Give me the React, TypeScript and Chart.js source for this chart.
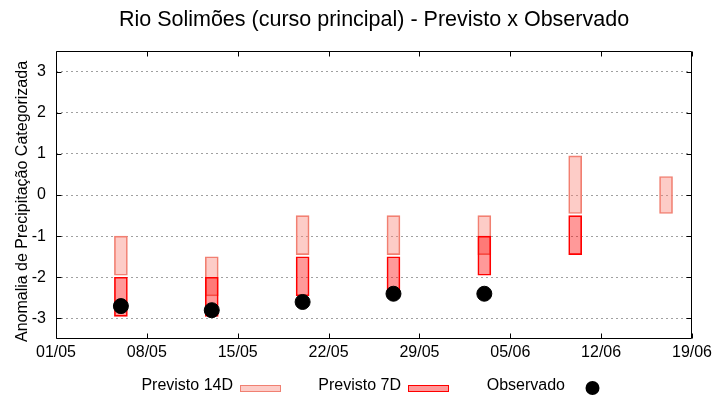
import React, { useEffect, useRef } from "react";
import { Chart, registerables } from "chart.js";

Chart.register(...registerables);

// ---- data ----
const chartTitle = "Rio Solimões (curso principal) - Previsto x Observado";
const yAxisTitle = "Anomalia de Precipitação Categorizada";
const xTickLabels = ["01/05", "08/05", "15/05", "22/05", "29/05", "05/06", "12/06", "19/06"];
const yTicks = [-3, -2, -1, 0, 1, 2, 3];
const weeks = ["06/05", "13/05", "20/05", "27/05", "03/06", "10/06", "17/06"];
const prev14Low = [-1.95, -2.45, -1.45, -1.45, -1.45, -0.45, -0.45];
const prev14High = [-1.0, -1.5, -0.5, -0.5, -0.5, 0.95, 0.45];
const prev7Low: (number | null)[] = [-2.95, -2.95, -2.45, -2.45, -1.95, -1.45, null];
const prev7High: (number | null)[] = [-2.0, -2.0, -1.5, -1.5, -1.0, -0.5, null];
const observed: (number | null)[] = [-2.7, -2.8, -2.6, -2.4, -2.4, null, null];

const FONT = "'Liberation Sans', Arial, sans-serif";

function dayIndex(s: string): number {
  const [d, m] = s.split("/").map(Number);
  return m === 5 ? d - 1 : 31 + d - 1;
}

const xMin = dayIndex(xTickLabels[0]);
const xMax = dayIndex(xTickLabels[xTickLabels.length - 1]);

const frameTicks = {
  id: "frameTicks",
  afterDatasetsDraw(chart: any) {
    const { ctx, chartArea, scales } = chart;
    const { left, right, top, bottom } = chartArea;
    ctx.save();
    ctx.strokeStyle = "#000";
    ctx.lineWidth = 1;
    ctx.setLineDash([]);
    ctx.beginPath();
    const L = Math.round(left) + 0.5, R = Math.round(right) - 0.5;
    const T = Math.round(top) + 0.5, B = Math.round(bottom) - 0.5;
    ctx.rect(L, T, R - L, B - T);
    const len = 5;
    yTicks.forEach((v) => {
      const y = Math.round(scales.y.getPixelForValue(v)) + 0.5;
      ctx.moveTo(L, y); ctx.lineTo(L + len, y);
      ctx.moveTo(R, y); ctx.lineTo(R - len, y);
    });
    xTickLabels.forEach((lab) => {
      const x = Math.round(scales.x.getPixelForValue(dayIndex(lab))) + 0.5;
      ctx.moveTo(x, B); ctx.lineTo(x, B - len);
      ctx.moveTo(x, T); ctx.lineTo(x, T + len);
    });
    ctx.stroke();
    // y axis title (gnuplot places it slightly below the plot centre)
    ctx.save();
    ctx.translate(27, (top + bottom) / 2 + 6.5);
    ctx.rotate(-Math.PI / 2);
    ctx.font = `16px ${FONT}`;
    ctx.fillStyle = "#000";
    ctx.textAlign = "center";
    ctx.textBaseline = "alphabetic";
    ctx.fillText(yAxisTitle, 0, 0);
    ctx.restore();
    ctx.restore();
  },
};

const customLegend = {
  id: "customLegend",
  afterDraw(chart: any) {
    const { ctx, chartArea } = chart;
    const cx = (chartArea.left + chartArea.right) / 2;
    const y = 388;
    const order = ["Previsto 14D", "Previsto 7D", "Observado"];
    ctx.save();
    ctx.font = `16px ${FONT}`;
    ctx.textBaseline = "middle";
    ctx.textAlign = "right";
    order.forEach((label, i) => {
      const ds = chart.data.datasets.find((d: any) => d.label === label);
      const sx = cx - 134 + i * 168;
      ctx.fillStyle = "#000";
      if (ds.type === "bar") {
        ctx.fillText(label, sx - 7, y - 2);
        ctx.fillStyle = ds.backgroundColor;
        ctx.fillRect(sx, y - 3, 41, 7);
        ctx.strokeStyle = ds.borderColor;
        ctx.lineWidth = 1;
        ctx.strokeRect(sx + 0.5, y - 2.5, 40, 6);
      } else {
        ctx.fillText(label, sx - 11, y - 2);
        ctx.fillStyle = ds.backgroundColor;
        ctx.beginPath();
        ctx.arc(sx + 16.5, y, 7, 0, Math.PI * 2);
        ctx.fill();
      }
    });
    ctx.restore();
  },
};

export default function App() {
  const ref = useRef<HTMLCanvasElement>(null);
  useEffect(() => {
    document.body.style.margin = "0";
    const obsData = weeks
      .map((w, i) => (observed[i] == null ? null : { x: dayIndex(w), y: observed[i] }))
      .filter((d) => d !== null);
    const p7Data = weeks
      .map((w, i) => (prev7Low[i] == null ? null : { x: dayIndex(w), y: [prev7Low[i], prev7High[i]] }))
      .filter((d) => d !== null);
    const p14Data = weeks.map((w, i) => ({ x: dayIndex(w), y: [prev14Low[i], prev14High[i]] }));

    const chart = new Chart(ref.current!, {
      type: "bar",
      data: {
        datasets: [
          {
            type: "scatter",
            label: "Observado",
            data: obsData as any,
            backgroundColor: "#000",
            borderColor: "#000",
            pointRadius: 7.5,
            pointHoverRadius: 7.5,
            order: 0,
          } as any,
          {
            type: "bar",
            label: "Previsto 7D",
            data: p7Data as any,
            backgroundColor: "rgba(255,0,0,0.4)",
            borderColor: "#ff0000",
            borderWidth: 1,
            borderSkipped: false,
            grouped: false,
            barThickness: 13,
            order: 1,
          } as any,
          {
            type: "bar",
            label: "Previsto 14D",
            data: p14Data as any,
            backgroundColor: "rgba(250,128,114,0.4)",
            borderColor: "#f08072",
            borderWidth: 1,
            borderSkipped: false,
            grouped: false,
            barThickness: 13,
            order: 2,
          } as any,
        ],
      },
      options: {
        responsive: false,
        animation: false,
        layout: { padding: { left: 0, right: 28, top: 0, bottom: 0 } },
        plugins: {
          legend: { display: false },
          tooltip: { enabled: false },
          title: {
            display: true,
            text: chartTitle,
            fullSize: false,
            color: "#000",
            font: { family: FONT, size: 21.5, weight: "normal", lineHeight: 1.2 },
            padding: { top: 7, bottom: 18.2 },
          },
        },
        scales: {
          x: {
            type: "linear",
            min: xMin,
            max: xMax,
            offset: false,
            grid: { display: false, drawTicks: false },
            border: { display: false },
            afterBuildTicks: (s: any) => {
              s.ticks = xTickLabels.map((l) => ({ value: dayIndex(l) }));
            },
            afterFit: (s: any) => {
              s.height = 61;
            },
            ticks: {
              autoSkip: false,
              maxRotation: 0,
              padding: 4,
              color: "#000",
              font: { family: FONT, size: 16 },
              callback: (v: any) => {
                const lab = xTickLabels.find((l) => dayIndex(l) === v);
                return lab ?? "";
              },
            },
          },
          y: {
            type: "linear",
            min: -3.5,
            max: 3.5,
            grid: { color: "#a0a0a0", lineWidth: 1, drawTicks: false },
            border: { display: false, dash: [2, 3] },
            afterBuildTicks: (s: any) => {
              s.ticks = yTicks.map((v) => ({ value: v }));
            },
            afterFit: (s: any) => {
              s.width = 56;
            },
            ticks: {
              padding: 10,
              color: "#000",
              font: { family: FONT, size: 16 },
              callback: (v: any) => String(v),
            },
            title: { display: false },
          },
        },
      },
      plugins: [frameTicks, customLegend],
    });
    return () => chart.destroy();
  }, []);
  return (
    <div style={{ width: 720, height: 400 }}>
      <canvas ref={ref} width={720} height={400} style={{ display: "block" }} />
    </div>
  );
}
